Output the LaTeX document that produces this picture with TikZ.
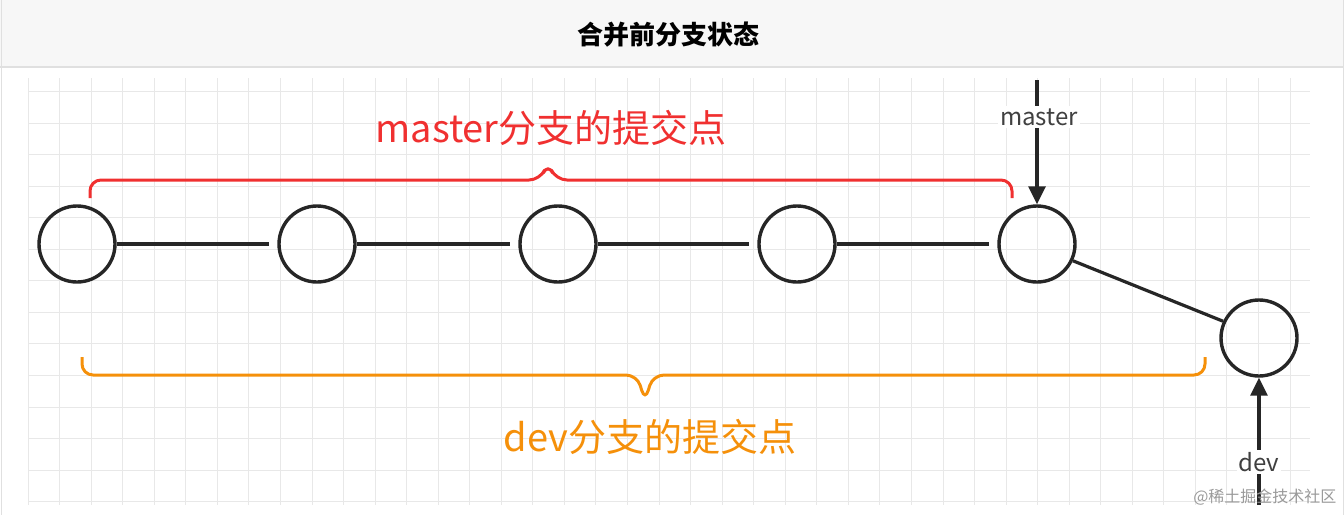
\documentclass[tikz,border=0pt]{standalone}
\usepackage{fontspec}
\setmainfont{Noto Sans CJK SC}
\usetikzlibrary{decorations.pathreplacing,arrows.meta}
\definecolor{bred}{HTML}{F03030}
\definecolor{bor}{HTML}{F5900A}
\begin{document}
\begin{tikzpicture}[x=1pt,y=-1pt,
  commit/.style={circle,draw=black!85,line width=3.4pt,minimum size=76pt,inner sep=0pt},
  link/.style={draw=black!85,line width=3.2pt},
  ptr/.style={draw=black!85,line width=3.2pt,-{Triangle[length=18pt,width=17pt]}},
  lbl/.style={fill=white,inner sep=2pt,font=\fontsize{24}{24}\selectfont,text=black!75},
  gridline/.style={draw=black!9,line width=0.9pt}]
\useasboundingbox (0,0) rectangle (1344,515);
\fill[black!3] (0,0) rectangle (1344,67);
\draw[black!12,line width=1.5pt] (0,67) -- (1344,67);
\draw[black!12,line width=1pt] (1,0) -- (1,515) (1343,0)--(1343,515);
\node (title) at (668,35) {\fontsize{26}{26}\selectfont\bfseries 合并前分支状态};
\foreach \i in {0,...,40} {\draw[gridline] ({28+31.55*\i},78) -- ({28+31.55*\i},505);}
\foreach \j in {0,...,13} {\draw[gridline] (28,{91.5+31.55*\j}) -- (1310,{91.5+31.55*\j});}
\node[commit] (c1) at (77,244) {};
\node[commit] (c2) at (317,244) {};
\node[commit] (c3) at (558,244) {};
\node[commit] (c4) at (797,244) {};
\node[commit] (c5) at (1037,244) {};
\node[commit] (d1) at (1259,338) {};
\draw[link] (c1.east) -- ([xshift=-8pt]c2.west);
\draw[link] (c2.east) -- ([xshift=-8pt]c3.west);
\draw[link] (c3.east) -- ([xshift=-8pt]c4.west);
\draw[link] (c4.east) -- ([xshift=-8pt]c5.west);
\draw[link] (c5.-25) -- (d1.155);
\coordinate (mtop) at (1037,80);
\coordinate (dbot) at (1259,505);
\draw[ptr] (mtop) -- (c5.north);
\draw[ptr] (dbot) -- (d1.south);
\node[lbl] (mlbl) at (1039,117) {master};
\node[lbl] (dlbl) at (1259,462) {dev};
\draw[bred,line width=3pt,rounded corners=11pt]
  (90,198) -- (90,180) -- (540,180) -- (548,163) -- (556,180) -- (1012,180) -- (1012,198);
\draw[bor,line width=3pt,rounded corners=11pt]
  (82,357) -- (82,375) -- (637,375) -- (645,401) -- (653,375) -- (1205,375) -- (1205,357);
\node[text=bred,font=\fontsize{38}{38}\selectfont] (mt) at (551,128) {master分支的提交点};
\node[text=bor,font=\fontsize{38}{38}\selectfont] (dt) at (650,437) {dev分支的提交点};
\node[text=black!40,font=\fontsize{16}{16}\selectfont,anchor=east] (wm) at (1340,497) {@稀土掘金技术社区};
\end{tikzpicture}
\end{document}
